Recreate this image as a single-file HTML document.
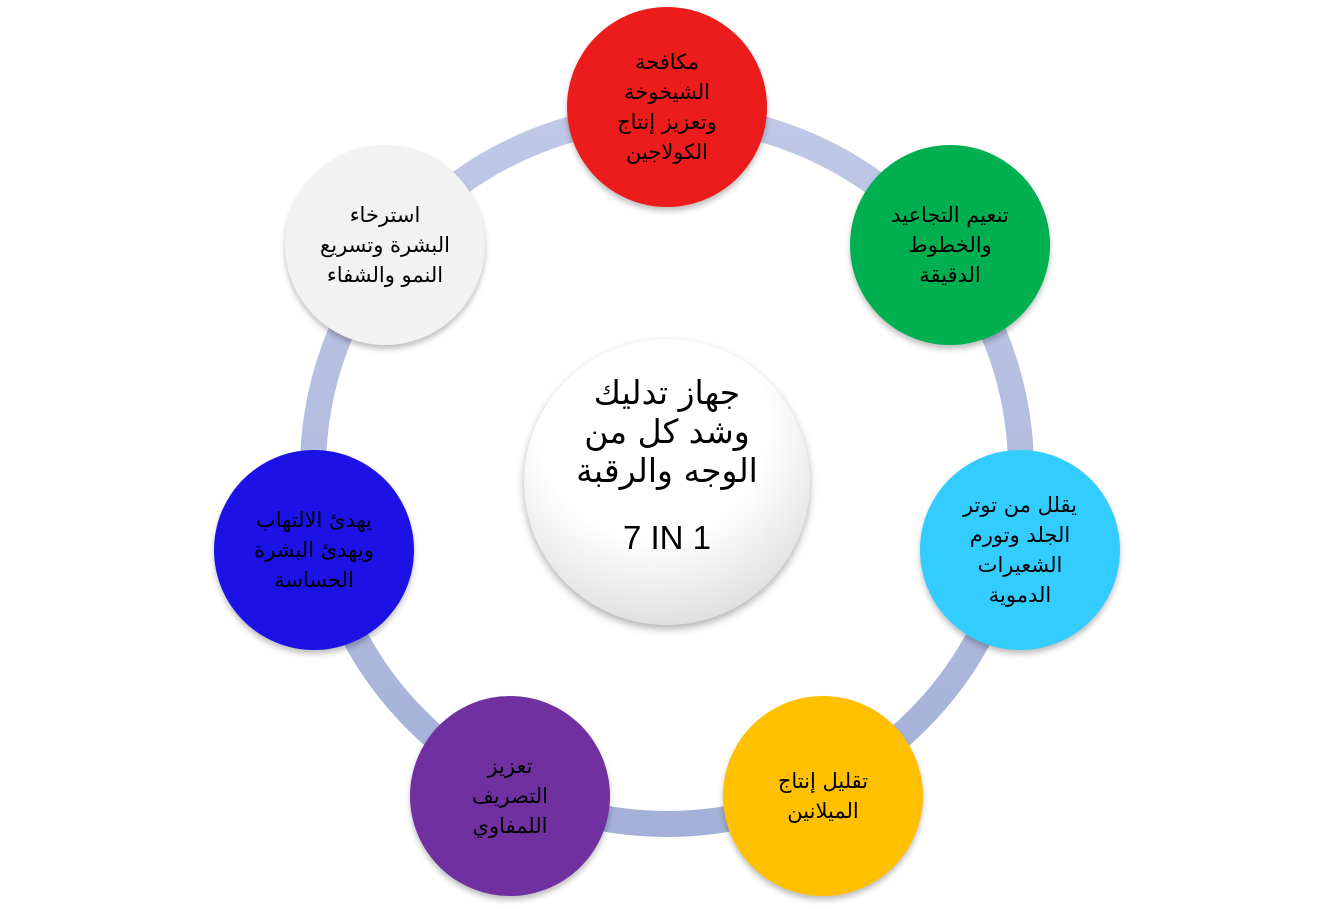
<!DOCTYPE html>
<html><head><meta charset="utf-8">
<style>
body{margin:0;width:1334px;height:909px;background:#fff;position:relative;overflow:hidden;font-family:"DejaVu Sans","Liberation Sans",sans-serif;}
.c{position:absolute;width:200px;height:200px;border-radius:50%;display:flex;align-items:center;justify-content:center;text-align:center;direction:rtl;font-size:21px;line-height:30px;color:#000;box-shadow:0 4px 6px rgba(0,0,0,0.25);}
.c span{display:block;width:190px;white-space:nowrap;}
</style></head><body>
<svg width="1334" height="909" style="position:absolute;left:0;top:0">
<defs><linearGradient id="g" x1="0" y1="0" x2="0" y2="1"><stop offset="0" stop-color="#c0c8e6"/><stop offset="1" stop-color="#a3b0d8"/></linearGradient>
<radialGradient id="w" cx="0.45" cy="0.3" r="0.8"><stop offset="0.5" stop-color="#ffffff"/><stop offset="1" stop-color="#d6d6d6"/></radialGradient></defs>
<circle cx="667" cy="470" r="354" fill="none" stroke="url(#g)" stroke-width="26"/>
<circle cx="667" cy="482" r="143" fill="url(#w)" style="filter:drop-shadow(0 4px 4px rgba(0,0,0,0.3))"/>
</svg>
<div style="position:absolute;left:520px;top:373px;width:294px;text-align:center;direction:rtl;font-size:33px;line-height:39px;white-space:nowrap;">جهاز تدليك<br>وشد كل من<br>الوجه والرقبة</div>
<div style="position:absolute;left:520px;top:519px;width:294px;text-align:center;font-size:33px;font-family:'Liberation Sans',sans-serif;">7 IN 1</div>
<div class="c" style="left:567px;top:7px;background:#ec1c1c"><span>مكافحة<br>الشيخوخة<br>وتعزيز إنتاج<br>الكولاجين</span></div>
<div class="c" style="left:850px;top:145px;background:#00b050"><span>تنعيم التجاعيد<br>والخطوط<br>الدقيقة</span></div>
<div class="c" style="left:920px;top:450px;background:#33ccff"><span>يقلل من توتر<br>الجلد وتورم<br>الشعيرات<br>الدموية</span></div>
<div class="c" style="left:723px;top:696px;background:#ffc000"><span>تقليل إنتاج<br>الميلانين</span></div>
<div class="c" style="left:410px;top:696px;background:#7030a0"><span>تعزيز<br>التصريف<br>اللمفاوي</span></div>
<div class="c" style="left:214px;top:450px;background:#1c12e6"><span>يهدئ الالتهاب<br>ويهدئ البشرة<br>الحساسة</span></div>
<div class="c" style="left:285px;top:145px;background:#f2f2f2"><span>استرخاء<br>البشرة وتسريع<br>النمو والشفاء</span></div>
</body></html>
